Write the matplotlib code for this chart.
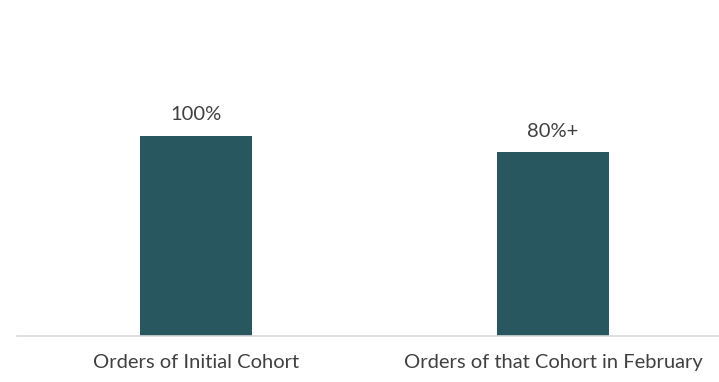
import matplotlib
matplotlib.use('Agg')
import matplotlib.pyplot as plt

categories = ['Orders of Initial Cohort', 'Orders of that Cohort in February']
values = [100, 91.7]
value_labels = ['100%', '80%+']

bar_color = '#285760'
text_color = '#404040'

fig = plt.figure(figsize=(7.19, 3.82), dpi=100)
ax = fig.add_axes([0.0243, 0.120, 0.993, 0.63])

x = list(range(len(categories)))
bars = ax.bar(x, values, width=0.314, color=bar_color, zorder=2)

for b, lab in zip(bars, value_labels):
    ax.annotate(lab, xy=(b.get_x() + b.get_width() / 2, b.get_height()),
                xytext=(0, 9), textcoords='offset points', ha='center', va='bottom',
                fontsize=14.5, color=text_color, family='Lato')

ax.set_xlim(-0.5, 1.5)
ax.set_ylim(0, 120)
ax.set_xticks(x)
ax.set_xticklabels(categories, fontsize=14.5, color=text_color, family='Lato')
ax.tick_params(axis='x', length=0, pad=13)
ax.set_yticks([])

for s in ['top', 'right', 'left']:
    ax.spines[s].set_visible(False)
ax.spines['bottom'].set_color('#D9D9D9')
ax.spines['bottom'].set_linewidth(1.2)

fig.savefig('out.png', dpi=100)
